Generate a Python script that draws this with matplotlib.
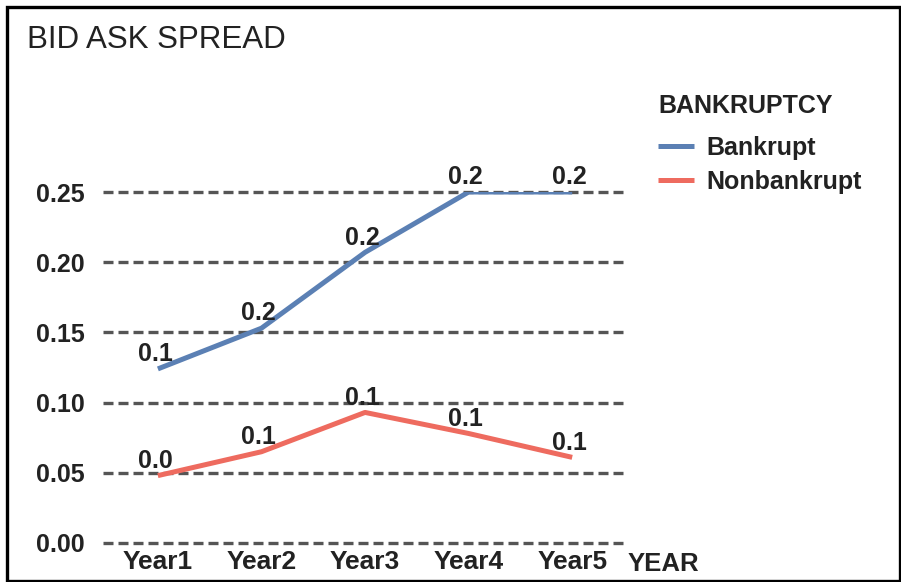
import matplotlib
matplotlib.use("Agg")
import matplotlib.pyplot as plt
from matplotlib.patches import Rectangle

# Data
years = ["Year1", "Year2", "Year3", "Year4", "Year5"]
bankrupt = [0.124, 0.153, 0.207, 0.250, 0.250]
nonbankrupt = [0.048, 0.065, 0.093, 0.078, 0.061]
yticks = [0.00, 0.05, 0.10, 0.15, 0.20, 0.25]

BLUE = "#5b80b4"
RED = "#ee6b5f"
GRID = "#555555"
TEXT = "#222222"
FONT = "Liberation Sans"

W, H = 901, 582
fig = plt.figure(figsize=(W / 100, H / 100), dpi=100)
fig.patch.set_facecolor("white")

# Outer frame
fig.add_artist(Rectangle((6.5 / W, 1 - 580.5 / H), 893 / W, 574 / H,
                         transform=fig.transFigure, fill=False,
                         edgecolor="black", linewidth=2.4))

ax = fig.add_axes([103 / W, 1 - 543 / H, 522 / W, 351 / H])
x = list(range(len(years)))

ax.plot(x, bankrupt, color=BLUE, linewidth=3.6, label="Bankrupt",
        solid_capstyle="butt", zorder=3)
ax.plot(x, nonbankrupt, color=RED, linewidth=3.6, label="Nonbankrupt",
        solid_capstyle="butt", zorder=3)

# Value labels
for series in (bankrupt, nonbankrupt):
    for xi, v in zip(x, series):
        ax.annotate(f"{v:.1f}", (xi, v), xytext=(-2, 2), textcoords="offset points",
                    ha="center", va="bottom", fontsize=18, fontweight="bold",
                    family=FONT, color=TEXT, zorder=4,
                    annotation_clip=False)

ax.set_xlim(-0.53, 4.51)
ax.set_ylim(0, 0.25)
ax.set_yticks(yticks)
ax.set_yticklabels([f"{t:.2f}" for t in yticks])
ax.set_xticks(x)
ax.set_xticklabels(years)

for s in ax.spines.values():
    s.set_visible(False)
ax.tick_params(axis="both", length=0, labelcolor=TEXT)
ax.tick_params(axis="y", pad=13)
ax.tick_params(axis="x", pad=5)
for lab in ax.get_yticklabels():
    lab.set_fontfamily(FONT)
    lab.set_fontweight("bold")
    lab.set_fontsize(18)
for lab in ax.get_xticklabels():
    lab.set_fontfamily(FONT)
    lab.set_fontweight("bold")
    lab.set_fontsize(19)

ax.yaxis.grid(True, linestyle=(0, (3.0, 1.5)), color=GRID, linewidth=2.4)
ax.xaxis.grid(False)
for gl in ax.get_ygridlines():
    gl.set_clip_on(False)
ax.set_axisbelow(True)

ax.set_xlabel("YEAR", fontsize=18.5, fontweight="bold", family=FONT,
              color=TEXT, ha="left", va="top")
ax.xaxis.set_label_coords(1.005, -0.026)

fig.text(27 / W, 1 - 40 / H, "BID ASK SPREAD", fontsize=22.5, family=FONT,
         color=TEXT, ha="left", va="center")

leg = fig.legend(loc="upper left", bbox_to_anchor=(658 / W, 1 - 94 / H),
                 frameon=False, title="BANKRUPTCY", alignment="left",
                 prop={"family": FONT, "weight": "bold", "size": 18},
                 title_fontproperties={"family": FONT, "weight": "bold", "size": 18},
                 handlelength=1.45, handletextpad=0.5, labelspacing=0.4,
                 borderaxespad=0, borderpad=0)
leg._legend_box.sep = 13
for t in leg.get_texts():
    t.set_color(TEXT)
leg.get_title().set_color(TEXT)

fig.savefig("out.png", dpi=100, facecolor="white")
